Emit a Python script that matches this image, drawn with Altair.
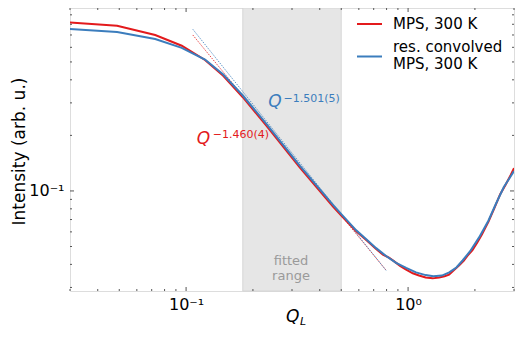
import altair as alt
import pandas as pd

RED = "#e31a1c"
BLUE = "#3b7dbd"
FONT = "DejaVu Sans"

# ---- data ----
q_red = [0.0297, 0.0489, 0.0726, 0.0956, 0.1217, 0.147, 0.1797, 0.2304, 0.325, 0.459, 0.505,
         0.584, 0.65, 0.718, 0.77, 0.82, 0.86, 0.92, 0.98, 1.05, 1.12, 1.20, 1.29, 1.38, 1.46,
         1.53, 1.62, 1.70, 1.78, 1.85, 1.95, 2.05, 2.15, 2.3, 2.45, 2.6, 2.75, 2.9, 3.0]
i_red = [0.818, 0.786, 0.700, 0.612, 0.5125, 0.421, 0.323, 0.225, 0.134, 0.0822, 0.0727,
         0.0605, 0.0540, 0.0484, 0.0452, 0.0435, 0.0418, 0.0393, 0.0375, 0.0358, 0.0348, 0.0340,
         0.0336, 0.0340, 0.0345, 0.0352, 0.0375, 0.0395, 0.0418, 0.0445, 0.0478, 0.0525, 0.0580,
         0.0680, 0.0810, 0.0960, 0.1080, 0.1220, 0.1330]
q_blue = [0.0297, 0.0489, 0.0726, 0.0956, 0.1217, 0.147, 0.1797, 0.2304, 0.325, 0.459, 0.505,
          0.584, 0.65, 0.718, 0.796, 0.883, 0.98, 1.086, 1.2, 1.3, 1.42, 1.533, 1.65, 1.76, 1.9,
          2.089, 2.3, 2.485, 2.7, 2.9, 3.0]
i_blue = [0.755, 0.727, 0.666, 0.596, 0.515, 0.427, 0.330, 0.230, 0.137, 0.0840, 0.0740,
          0.0612, 0.0545, 0.0490, 0.0444, 0.0408, 0.0383, 0.0362, 0.0350, 0.0345, 0.0348, 0.0362,
          0.0385, 0.0420, 0.0470, 0.0560, 0.0690, 0.0850, 0.1050, 0.1200, 0.1280]

fit_q = [0.1072, 0.796]
fit_red = [0.700, 0.0372]
fit_blue = [0.752, 0.0371]

series_names = ["MPS, 300 K", "res. convolved MPS, 300 K"]
legend_lines = [["MPS, 300 K"], ["res. convolved", "MPS, 300 K"]]
fit_range = [0.18, 0.5]

x_major = [0.1, 1.0]
x_minor = [0.03, 0.04, 0.05, 0.06, 0.07, 0.08, 0.09, 0.2, 0.3, 0.4, 0.5, 0.6, 0.7, 0.8, 0.9, 2.0, 3.0]
y_major = [0.1]
y_minor = [0.03, 0.04, 0.05, 0.06, 0.07, 0.08, 0.09, 0.2, 0.3, 0.4, 0.5, 0.6, 0.7, 0.8, 0.9]

ann_q = [0.1117, 0.1318, 0.2344, 0.2746]
ann_i = [0.1795, 0.194, 0.2858, 0.3037]
ann_text = ["Q", "\u22121.460(4)", "Q", "\u22121.501(5)"]

W, H = 444, 283
LEFT = 62
MAJ, MIN = 4, 2

xs = alt.Scale(type="log", domain=[0.03, 3], nice=False)
ys = alt.Scale(type="log", domain=[0.0287, 0.98], nice=False)
xax = alt.Axis(values=x_major, labelExpr="datum.value < 0.5 ? '10\u207b\u00b9' : '10\u2070'",
               ticks=False, domain=False, grid=False, labelFontSize=16, labelPadding=5,
               labelColor="black", labelFont=FONT, title=None)
yax = alt.Axis(values=y_major, labelExpr="'10\u207b\u00b9'", ticks=False, domain=False, grid=False,
               labelFontSize=16, labelPadding=6, labelColor="black", labelFont=FONT,
               title="Intensity (arb. u.)", titleFontSize=17, titleFontWeight="normal",
               titleFont=FONT, titleColor="black", titleX=-51, titleY=143, titleAngle=-90,
               titleAlign="center", titleBaseline="middle")


def X(f):
    return alt.X(f, type="quantitative", scale=xs, axis=xax)


def Y(f):
    return alt.Y(f, type="quantitative", scale=ys, axis=yax)


color_scale = alt.Scale(domain=series_names, range=[RED, BLUE])

lines_df = pd.concat([
    pd.DataFrame({"q": q_red, "i": i_red, "s": series_names[0], "o": range(len(q_red))}),
    pd.DataFrame({"q": q_blue, "i": i_blue, "s": series_names[1], "o": range(len(q_blue))}),
])

shade = alt.Chart(pd.DataFrame({"a": [fit_range[0]], "b": [fit_range[1]]})).mark_rect(
    color="#e6e6e6", stroke="#d2d2d2", strokeWidth=0.8
).encode(x=X("a"), x2="b", y=alt.value(0), y2=alt.value(H))

fit_r = alt.Chart(pd.DataFrame({"q": fit_q, "i": fit_red})).mark_line(
    color=RED, strokeWidth=0.8, strokeDash=[1.5, 1.2], clip=True
).encode(x=X("q"), y=Y("i"))
fit_b = alt.Chart(pd.DataFrame({"q": fit_q, "i": fit_blue})).mark_line(
    color=BLUE, strokeWidth=0.8, strokeDash=[1.5, 1.2], clip=True
).encode(x=X("q"), y=Y("i"))

curves = alt.Chart(lines_df).mark_line(strokeWidth=2, clip=True).encode(
    x=X("q"), y=Y("i"), order="o:Q",
    color=alt.Color("s:N", scale=color_scale, legend=None),
)

ann_df = pd.DataFrame({"q": ann_q, "i": ann_i, "t": ann_text})
ann_layers = []
for k, (col, size, style) in enumerate([(RED, 17, "italic"), (RED, 11, "normal"),
                                         (BLUE, 17, "italic"), (BLUE, 11, "normal")]):
    ann_layers.append(alt.Chart(ann_df.iloc[[k]]).mark_text(
        align="left", baseline="alphabetic", fontSize=size, fontStyle=style, color=col, font=FONT
    ).encode(x=X("q"), y=Y("i"), text="t:N"))

fitted_txt = alt.Chart(pd.DataFrame({"q": [0.297, 0.297], "i": [0.0415, 0.0345],
                                     "t": ["fitted", "range"]})).mark_text(
    align="center", baseline="middle", fontSize=13, color="#9a9a9a", font=FONT
).encode(x=X("q"), y=Y("i"), text="t:N")

one = pd.DataFrame({"a": [0]})


def label(txt, x, y, size, style="normal", color="black", baseline="alphabetic"):
    return alt.Chart(one).mark_text(align="left", baseline=baseline, fontSize=size, fontStyle=style,
                                    font=FONT, color=color).encode(
        x=alt.value(x), y=alt.value(y), text=alt.value(txt))


xt_q = label("Q", 216, 314, 17, "italic")
xt_l = label("L", 230, 317, 11, "italic")

# legend (drawn by hand, matplotlib style)
legend_layers = [
    alt.Chart(one).mark_rule(strokeWidth=2, color=RED).encode(
        x=alt.value(287), x2=alt.value(312), y=alt.value(16)),
    alt.Chart(one).mark_rule(strokeWidth=2, color=BLUE).encode(
        x=alt.value(287), x2=alt.value(312), y=alt.value(48.5)),
    label(legend_lines[0][0], 323, 16, 15, baseline="middle"),
    label(legend_lines[1][0], 323, 39, 15, baseline="middle"),
    label(legend_lines[1][1], 323, 56, 15, baseline="middle"),
]

TC = "#555555"


def xticks(vals, length):
    d = alt.Chart(pd.DataFrame({"v": vals}))
    bot = d.mark_rule(color=TC, strokeWidth=1).encode(x=X("v"), y=alt.value(H), y2=alt.value(H - length))
    top = d.mark_rule(color=TC, strokeWidth=1).encode(x=X("v"), y=alt.value(0), y2=alt.value(length))
    return [bot, top]


def yticks(vals, length):
    d = alt.Chart(pd.DataFrame({"v": vals}))
    lef = d.mark_rule(color=TC, strokeWidth=1).encode(y=Y("v"), x=alt.value(0), x2=alt.value(length))
    rig = d.mark_rule(color=TC, strokeWidth=1).encode(y=Y("v"), x=alt.value(W), x2=alt.value(W - length))
    return [lef, rig]


ticks = xticks(x_major, MAJ) + xticks(x_minor, MIN) + yticks(y_major, MAJ) + yticks(y_minor, MIN)

chart = alt.layer(
    shade, fit_r, fit_b, curves, *ann_layers, fitted_txt, xt_q, xt_l, *ticks, *legend_layers
).properties(
    width=W, height=H,
    autosize=alt.AutoSizeParams(type="none"),
    padding={"left": LEFT, "top": 0, "right": 1, "bottom": 38},
    background="white",
).configure_view(stroke="#444444", strokeWidth=1.2).configure(font=FONT)

chart.save("out.html", embed_options={"renderer": "svg", "actions": False})
